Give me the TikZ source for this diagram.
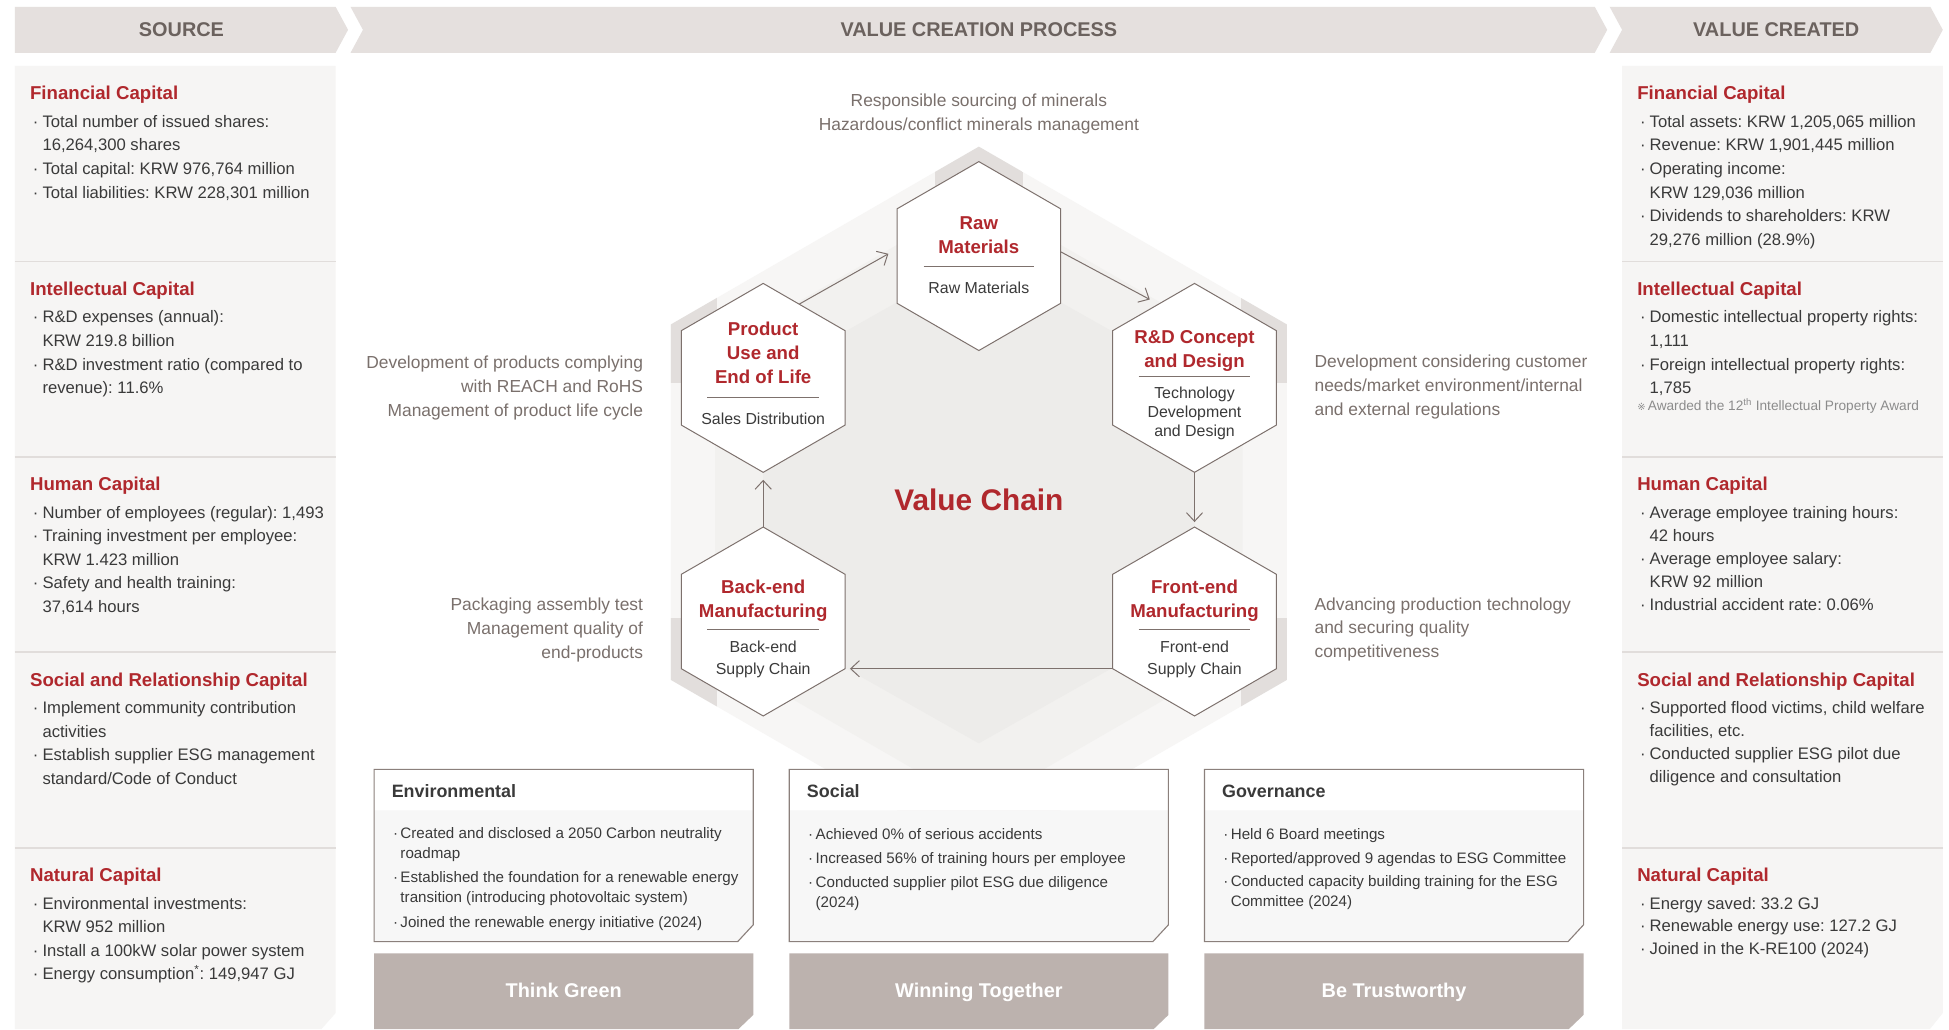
\documentclass[tikz,border=0pt]{standalone}
\usepackage{fontspec}
\setmainfont{Liberation Sans}
\newfontfamily\symfont{DejaVu Sans}
\usetikzlibrary{shapes.geometric,arrows.meta,calc}
\frenchspacing
\definecolor{hdrfill}{HTML}{E5E0DE}
\definecolor{hdrtext}{HTML}{6B625E}
\definecolor{panelc}{HTML}{F6F5F4}
\definecolor{sepc}{HTML}{E1DDDB}
\definecolor{redc}{HTML}{B0282D}
\definecolor{bodyc}{HTML}{3A3A3A}
\definecolor{descc}{HTML}{7A706C}
\definecolor{hexline}{HTML}{7D716D}
\definecolor{bannerc}{HTML}{BCB2AE}
\definecolor{boxline}{HTML}{8B807C}
\definecolor{boxbody}{HTML}{F7F7F7}
\definecolor{notec}{HTML}{8C8C8C}
\definecolor{bgout}{HTML}{F7F6F5}
\definecolor{bgmid}{HTML}{F2F1EF}
\definecolor{bgin}{HTML}{EDECEA}
\definecolor{rimc}{HTML}{E2DEDC}
\newcommand\myb{\makebox[10pt][l]{\hspace{2.2pt}·}}
\newcommand\myi{\hspace*{10pt}}
\newcommand\myeb{\makebox[6pt][l]{·}}
\newcommand\myei{\hspace*{6pt}}
\newcommand\CapSect[6]{%
  \node[ttl] (#1t) at (#2,{#3+27.3}) {#4};
  \foreach \txt [count=\i from 0] in {#6}
    {\node[body] (#1l\i) at (#2,{#3+49.3+#5*\i}) {\txt};}%
}
\tikzset{
  body/.style={font=\fontsize{13.4}{16}\selectfont, text=bodyc, inner sep=0pt, anchor=base west},
  ttl/.style={font=\bfseries\fontsize{15}{18}\selectfont, text=redc, inner sep=0pt, anchor=base west},
  hdr/.style={font=\bfseries\fontsize{16}{19}\selectfont, text=hdrtext, inner sep=0pt, anchor=base},
  hexa/.style={regular polygon, regular polygon sides=6, shape border rotate=30, minimum size=152pt, inner sep=0pt, outer sep=0pt, draw=hexline, line width=0.8pt, fill=white},
  hext/.style={font=\bfseries\fontsize{15}{18}\selectfont, text=redc, inner sep=0pt, anchor=base},
  hexs/.style={font=\fontsize{12.8}{15}\selectfont, text=bodyc, inner sep=0pt, anchor=base},
  hexrule/.style={draw=hexline, line width=0.8pt},
  desc/.style={font=\fontsize{14}{17}\selectfont, text=descc, inner sep=0pt},
  flow/.style={draw=hexline, line width=0.8pt, -{Straight Barb[length=7pt,width=13pt]}},
  esgt/.style={font=\bfseries\fontsize{14.4}{17}\selectfont, text=bodyc, inner sep=0pt, anchor=base west},
  esgb/.style={font=\fontsize{12.2}{15}\selectfont, text=bodyc, inner sep=0pt, anchor=base west},
  ban/.style={font=\bfseries\fontsize{16}{19}\selectfont, text=white, inner sep=0pt, anchor=base},
  sepline/.style={draw=sepc, line width=1.3pt},
}
\begin{document}
\begin{tikzpicture}[x=1pt,y=-1pt]
\useasboundingbox (0,0) rectangle (1568,828);
\fill[white] (0,0) rectangle (1568,828);

% headers
\fill[hdrfill] (12,5.5) -- (270,5.5) -- (280,24) -- (270,42.5) -- (12,42.5) -- cycle;
\fill[hdrfill] (282,5.5) -- (1283,5.5) -- (1293,24) -- (1283,42.5) -- (282,42.5) -- (292,24) -- cycle;
\fill[hdrfill] (1295,5.5) -- (1553,5.5) -- (1563,24) -- (1553,42.5) -- (1295,42.5) -- (1305,24) -- cycle;
\node[hdr] (hsrc) at (146,29.7) {SOURCE};
\node[hdr] (hvcp) at (787.5,29.7) {VALUE CREATION PROCESS};
\node[hdr] (hvcd) at (1429,29.7) {VALUE CREATED};

% side panels
\fill[panelc] (12,53) -- (270,53) -- (270,815) -- (258.5,828) -- (12,828) -- cycle;
\fill[panelc] (1305,53) -- (1563,53) -- (1563,815) -- (1552.5,828) -- (1305,828) -- cycle;
\foreach \yy in {210.5,367.5,524.7,682}{
  \draw[sepline] (12,\yy) -- (270,\yy);
  \draw[sepline] (1305,\yy) -- (1563,\yy);
}

% left panel
\CapSect{sf}{24}{53}{Financial Capital}{19}{{\myb Total number of issued shares:},{\myi 16,264,300 shares},{\myb Total capital: KRW 976,764 million},{\myb Total liabilities: KRW 228,301 million}}
\CapSect{si}{24}{210.5}{Intellectual Capital}{19}{{\myb R\&D expenses (annual):},{\myi KRW 219.8 billion},{\myb R\&D investment ratio (compared to},{\myi revenue): 11.6\%}}
\CapSect{sh}{24}{367.5}{Human Capital}{19}{{\myb Number of employees (regular): 1,493},{\myb Training investment per employee:},{\myi KRW 1.423 million},{\myb Safety and health training:},{\myi 37,614 hours}}
\CapSect{ss}{24}{524.7}{Social and Relationship Capital}{19}{{\myb Implement community contribution},{\myi activities},{\myb Establish supplier ESG management},{\myi standard/Code of Conduct}}
\CapSect{sn}{24}{682}{Natural Capital}{19}{{\myb Environmental investments:},{\myi KRW 952 million},{\myb Install a 100kW solar power system},{\myb Energy consumption\textsuperscript{*}: 149,947 GJ}}

% right panel
\CapSect{vf}{1317}{53}{Financial Capital}{19}{{\myb Total assets: KRW 1,205,065 million},{\myb Revenue: KRW 1,901,445 million},{\myb Operating income:},{\myi KRW 129,036 million},{\myb Dividends to shareholders: KRW},{\myi 29,276 million (28.9\%)}}
\CapSect{vi}{1317}{210.5}{Intellectual Capital}{19}{{\myb Domestic intellectual property rights:},{\myi 1,111},{\myb Foreign intellectual property rights:},{\myi 1,785}}
\node[inner sep=0pt, anchor=base west, text=notec, font=\fontsize{11}{13}\selectfont] (vinote) at (1317,330.5) {{\symfont\fontsize{8}{10}\selectfont ※}\,Awarded the 12\textsuperscript{th} Intellectual Property Award};
\CapSect{vh}{1317}{367.5}{Human Capital}{18.6}{{\myb Average employee training hours:},{\myi 42 hours},{\myb Average employee salary:},{\myi KRW 92 million},{\myb Industrial accident rate: 0.06\%}}
\CapSect{vs}{1317}{524.7}{Social and Relationship Capital}{18.6}{{\myb Supported flood victims, child welfare},{\myi facilities, etc.},{\myb Conducted supplier ESG pilot due},{\myi diligence and consultation}}
\CapSect{vn}{1317}{682}{Natural Capital}{18.4}{{\myb Energy saved: 33.2 GJ},{\myb Renewable energy use: 127.2 GJ},{\myb Joined in the K-RE100 (2024)}}

% central background
\fill[bgout] (787.5,118) -- (1035.2,261) -- (1035.2,547) -- (787.5,690) -- (539.8,547) -- (539.8,261) -- cycle;
\fill[bgmid] (787.5,159) -- (999.7,281.5) -- (999.7,526.5) -- (787.5,649) -- (575.3,526.5) -- (575.3,281.5) -- cycle;
\fill[bgin] (787.5,206) -- (961,304) -- (961,500) -- (787.5,598) -- (614,500) -- (614,304) -- cycle;
\begin{scope}
  \clip (787.5,118) -- (1035.2,261) -- (1035.2,547) -- (787.5,690) -- (539.8,547) -- (539.8,261) -- cycle;
  \fill[rimc] (752,100) rectangle (823,165);
  \fill[rimc] (530,225) rectangle (577,308);
  \fill[rimc] (530,497) rectangle (577,600);
  \fill[rimc] (998,225) rectangle (1045,308);
  \fill[rimc] (998,497) rectangle (1045,600);
\end{scope}

% top description
\node[desc, anchor=base] (dtop1) at (787.5,86) {Responsible sourcing of minerals};
\node[desc, anchor=base] (dtop2) at (787.5,105) {Hazardous/conflict minerals management};

% hexagons
\node[hexa] (raw) at (787.5,206) {};
\node[hexa] (prod) at (614,304) {};
\node[hexa] (rd) at (961,304) {};
\node[hexa] (be) at (614,500) {};
\node[hexa] (fe) at (961,500) {};

% hexagon texts
\node[hext] (rawa) at (787.5,184.3) {Raw};
\node[hext] (rawb) at (787.5,203.8) {Materials};
\draw[hexrule] (743,214) -- (832,214);
\node[hexs] (rawc) at (787.5,236.5) {Raw Materials};

\node[hext] (proda) at (614,270.3) {Product};
\node[hext] (prodb) at (614,289.6) {Use and};
\node[hext] (prodc) at (614,308.8) {End of Life};
\draw[hexrule] (569,319.7) -- (659,319.7);
\node[hexs] (prodd) at (614,341.9) {Sales Distribution};

\node[hext] (rda) at (961,276.2) {R\&D Concept};
\node[hext] (rdb) at (961,295.4) {and Design};
\draw[hexrule] (916,303) -- (1006,303);
\node[hexs] (rdc) at (961,320.5) {Technology};
\node[hexs] (rdd) at (961,335.5) {Development};
\node[hexs] (rde) at (961,351) {and Design};

\node[hext] (bea) at (614,477.3) {Back-end};
\node[hext] (beb) at (614,496.6) {Manufacturing};
\draw[hexrule] (569,506.8) -- (659,506.8);
\node[hexs] (bec) at (614,525.3) {Back-end};
\node[hexs] (bed) at (614,542.7) {Supply Chain};

\node[hext] (fea) at (961,477.3) {Front-end};
\node[hext] (feb) at (961,496.6) {Manufacturing};
\draw[hexrule] (916,506.8) -- (1006,506.8);
\node[hexs] (fec) at (961,525.3) {Front-end};
\node[hexs] (fed) at (961,542.7) {Supply Chain};

\node[font=\bfseries\fontsize{24}{28}\selectfont, text=redc, inner sep=0pt, anchor=base] (vc) at (787.5,410.6) {Value Chain};

% flows
\draw[flow, shorten >=8pt] (prod.64) -- (raw.175);
\draw[flow, shorten >=8pt] (raw.3) -- (rd.116);
\draw[flow, shorten >=4pt] (rd.270) -- (fe.90);
\draw[flow, shorten >=4pt] (fe.210) -- (be.330);
\draw[flow, shorten >=6pt] (be.90) -- (prod.270);

% side descriptions
\node[desc, anchor=base east] (dl1) at (517.5,296.5) {Development of products complying};
\node[desc, anchor=base east] (dl2) at (517.5,315.5) {with REACH and RoHS};
\node[desc, anchor=base east] (dl3) at (517.5,334.8) {Management of product life cycle};
\node[desc, anchor=base east] (dl4) at (517.5,491) {Packaging assembly test};
\node[desc, anchor=base east] (dl5) at (517.5,510.5) {Management quality of};
\node[desc, anchor=base east] (dl6) at (517.5,529.8) {end-products};
\node[desc, anchor=base west] (dr1) at (1057.4,296) {Development considering customer};
\node[desc, anchor=base west] (dr2) at (1057.4,314.7) {needs/market environment/internal};
\node[desc, anchor=base west] (dr3) at (1057.4,334) {and external regulations};
\node[desc, anchor=base west] (dr4) at (1057.4,491) {Advancing production technology};
\node[desc, anchor=base west] (dr5) at (1057.4,510) {and securing quality};
\node[desc, anchor=base west] (dr6) at (1057.4,529.3) {competitiveness};

% ESG boxes and banners
\foreach \L/\nm/\ttl/\ban in {301/env/Environmental/Think Green,635/soc/Social/Winning Together,969/gov/Governance/Be Trustworthy}{
  \fill[white] (\L,619) rectangle ({\L+305},652);
  \fill[boxbody] (\L,652) -- ({\L+305},652) -- ({\L+305},744) -- ({\L+292.5},757.5) -- (\L,757.5) -- cycle;
  \draw[draw=boxline, line width=0.9pt] (\L,619) -- ({\L+305},619) -- ({\L+305},744) -- ({\L+292.5},757.5) -- (\L,757.5) -- cycle;
  \fill[bannerc] (\L,767) -- ({\L+305},767) -- ({\L+305},816.5) -- ({\L+293},828) -- (\L,828) -- cycle;
  \node[esgt] (\nm t) at ({\L+14},641.2) {\ttl};
  \node[ban] (\nm b) at ({\L+152.5},802.7) {\ban};
}
\foreach \yy/\txt [count=\i] in {674.9/{\myeb Created and disclosed a 2050 Carbon neutrality},690.9/{\myei roadmap},709.9/{\myeb Established the foundation for a renewable energy},725.9/{\myei transition (introducing photovoltaic system)},745.9/{\myeb Joined the renewable energy initiative (2024)}}
  {\node[esgb] (envl\i) at (316,\yy) {\txt};}
\foreach \yy/\txt [count=\i] in {675.4/{\myeb Achieved 0\% of serious accidents},694.4/{\myeb Increased 56\% of training hours per employee},713.9/{\myeb Conducted supplier pilot ESG due diligence},729.9/{\myei (2024)}}
  {\node[esgb] (socl\i) at (650,\yy) {\txt};}
\foreach \yy/\txt [count=\i] in {675.4/{\myeb Held 6 Board meetings},694.4/{\myeb Reported/approved 9 agendas to ESG Committee},712.9/{\myeb Conducted capacity building training for the ESG},728.9/{\myei Committee (2024)}}
  {\node[esgb] (govl\i) at (984,\yy) {\txt};}
\end{tikzpicture}
\end{document}
